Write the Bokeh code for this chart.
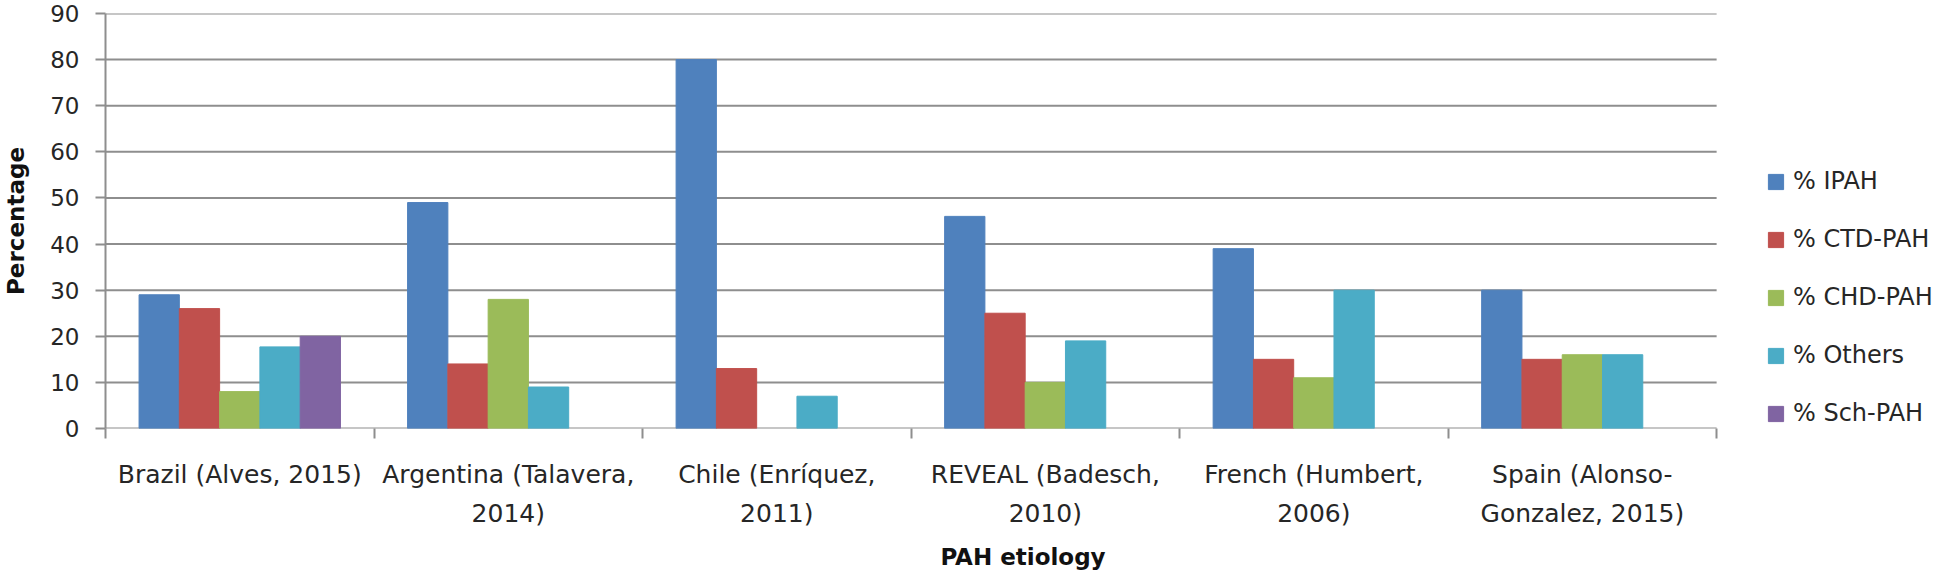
from bokeh.plotting import figure
from bokeh.models import (Range1d, LinearAxis, FixedTicker, Legend,
                          LegendItem, ColumnDataSource)
from bokeh.transform import dodge
from bokeh.embed import file_html
from bokeh.resources import INLINE

nan = float("nan")

categories = ["Brazil (Alves, 2015)", "Argentina (Talavera, 2014)", "Chile (Enríquez, 2011)",
              "REVEAL (Badesch, 2010)", "French (Humbert, 2006)", "Spain (Alonso-Gonzalez, 2015)"]
tick_labels = ["Brazil (Alves, 2015)", "Argentina (Talavera,\n2014)", "Chile (Enríquez,\n2011)",
               "REVEAL (Badesch,\n2010)", "French (Humbert,\n2006)", "Spain (Alonso-\nGonzalez, 2015)"]
series_names = ["% IPAH", "% CTD-PAH", "% CHD-PAH", "% Others", "% Sch-PAH"]
ipah = [29, 49, 80, 46, 39, 30]
ctd_pah = [26, 14, 13, 25, 15, 15]
chd_pah = [8, 28, nan, 10, 11, 16]
others = [17.7, 9, 7, 19, 30, 16]
sch_pah = [20, nan, nan, nan, nan, nan]
colors = ["#4F81BD", "#C0504D", "#9BBB59", "#4BACC6", "#8064A2"]
y_ticks = [0, 10, 20, 30, 40, 50, 60, 70, 80, 90]

series_values = [ipah, ctd_pah, chd_pah, others, sch_pah]
keys = ["s0", "s1", "s2", "s3", "s4"]
ncat = len(categories)
centers = [i + 0.5 for i in range(ncat)]
bounds = list(range(ncat + 1))
data = {"cat": categories, "xc": centers}
for k, v in zip(keys, series_values):
    data[k] = v
source = ColumnDataSource(data)

GRID = "#8E8E8E"
TXT = "#262626"
FONT = "DejaVu Sans"

# frame spans 104..1940 px; categories occupy 104..1716 px, legend sits to the right
W, LEFT, RIGHT_PAD = 1946, 104, 6
frame_w = W - LEFT - RIGHT_PAD
cat_w = 1716 - LEFT
x_end = ncat * frame_w / cat_w

p = figure(x_range=Range1d(0, x_end), y_range=Range1d(0, 90),
           width=W, height=572, output_backend="svg", toolbar_location=None,
           x_axis_location=None, min_border_left=LEFT, min_border_right=RIGHT_PAD,
           min_border_top=13, min_border_bottom=144)
p.outline_line_color = None

# horizontal grid lines, limited to the category area
p.segment(x0=[0] * len(y_ticks), x1=[ncat] * len(y_ticks), y0=y_ticks, y1=y_ticks,
          line_color=GRID, line_width=2)

bw = 0.15
renderers = []
n = len(keys)
for i, (k, c) in enumerate(zip(keys, colors)):
    off = (i - (n - 1) / 2) * bw
    r = p.vbar(x=dodge("xc", off), top=k, width=bw, source=source,
               fill_color=c, line_color=c, line_width=1)
    renderers.append(r)

# x axis with ticks at category boundaries, labels at centers
xaxis = LinearAxis(ticker=FixedTicker(ticks=centers, minor_ticks=bounds))
xaxis.major_label_overrides = {c: lab for c, lab in zip(centers, tick_labels)}
xaxis.major_tick_out = 0
xaxis.major_tick_in = 0
xaxis.minor_tick_out = 10
xaxis.minor_tick_in = 0
xaxis.minor_tick_line_color = GRID
xaxis.minor_tick_line_width = 2
xaxis.axis_line_color = None
xaxis.major_label_text_font = FONT
xaxis.major_label_text_font_size = "25px"
xaxis.major_label_text_color = TXT
xaxis.major_label_text_line_height = 1.35
xaxis.major_label_standoff = 21
xaxis.axis_label = "PAH etiology"
xaxis.axis_label_text_font = FONT
xaxis.axis_label_text_font_style = "bold"
xaxis.axis_label_text_font_size = "23px"
xaxis.axis_label_text_color = "#111111"
xaxis.axis_label_standoff = 13
p.add_layout(xaxis, "below")

ya = p.yaxis[0]
ya.ticker = FixedTicker(ticks=y_ticks)
ya.major_tick_out = 10
ya.major_tick_in = 0
ya.minor_tick_out = 0
ya.minor_tick_in = 0
ya.major_tick_line_color = GRID
ya.major_tick_line_width = 2
ya.axis_line_color = GRID
ya.axis_line_width = 2
ya.major_label_text_font = FONT
ya.major_label_text_font_size = "23px"
ya.major_label_text_color = TXT
ya.major_label_standoff = 16
ya.axis_label = "Percentage"
ya.axis_label_text_font = FONT
ya.axis_label_text_font_style = "bold"
ya.axis_label_text_font_size = "23px"
ya.axis_label_text_color = "#111111"
ya.axis_label_standoff = 18

p.xgrid.visible = False
p.ygrid.visible = False

items = [LegendItem(label=nm, renderers=[r]) for nm, r in zip(series_names, renderers)]
legend = Legend(items=items, location=(1765 - LEFT, 1), padding=0, margin=0,
                border_line_color=None, background_fill_alpha=0,
                glyph_width=19, glyph_height=19, label_height=19, label_standoff=8,
                spacing=30, label_text_font=FONT, label_text_font_size="24px",
                label_text_color=TXT)
p.add_layout(legend, "center")

open("out.html", "w").write(file_html(p, INLINE))
